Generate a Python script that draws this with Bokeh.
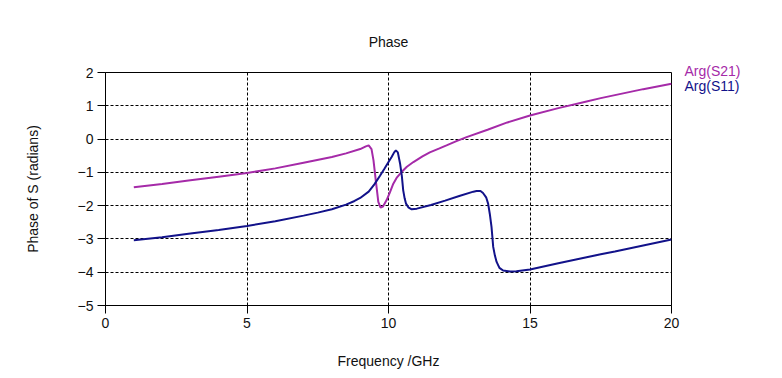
from bokeh.plotting import figure
from bokeh.models import Range1d, FixedTicker, Label
from bokeh.embed import file_html
from bokeh.resources import INLINE

# ---- data ----
freq_s21 = [1, 2, 3, 4, 5, 6, 7, 8, 8.5, 9, 9.2, 9.3, 9.4, 9.47, 9.55, 9.64, 9.72, 9.8,
            9.93, 10.05, 10.17, 10.3, 10.46, 10.65, 10.88, 11.2, 11.46, 11.8, 12.05,
            12.4, 12.76, 13.5, 14.2, 15, 16, 17, 17.5, 18, 19, 20]
arg_s21 = [-1.45, -1.35, -1.24, -1.13, -1.02, -0.88, -0.71, -0.54, -0.43, -0.30, -0.22,
           -0.19, -0.30, -0.64, -1.24, -1.89, -2.06, -2.03, -1.84, -1.60, -1.34, -1.15,
           -0.99, -0.83, -0.69, -0.52, -0.40, -0.28, -0.19, -0.06, 0.06, 0.28, 0.50,
           0.71, 0.93, 1.13, 1.23, 1.32, 1.50, 1.66]

freq_s11 = [1, 2, 3, 4, 5, 6, 7, 7.5, 8, 8.5, 8.8, 9, 9.3, 9.5, 9.7, 9.85, 10.0, 10.11,
            10.2, 10.26, 10.33, 10.41, 10.47, 10.52, 10.57, 10.62, 10.7, 10.82, 11.0,
            11.5, 12.0, 12.5, 13.0, 13.11, 13.25, 13.34, 13.45, 13.52, 13.58, 13.64,
            13.70, 13.76, 13.82, 13.92, 14.05, 14.3, 14.52, 15.0, 16.0, 17.0, 17.5, 18,
            19, 20]
arg_s11 = [-3.04, -2.95, -2.84, -2.73, -2.61, -2.47, -2.30, -2.21, -2.11, -1.97, -1.86,
           -1.77, -1.58, -1.36, -1.10, -0.90, -0.69, -0.54, -0.40, -0.34, -0.40, -0.74,
           -1.10, -1.54, -1.78, -1.94, -2.05, -2.11, -2.09, -1.98, -1.85, -1.71, -1.58,
           -1.56, -1.56, -1.62, -1.75, -1.94, -2.25, -2.64, -3.24, -3.50, -3.69, -3.87,
           -3.95, -3.98, -3.97, -3.92, -3.73, -3.55, -3.46, -3.38, -3.20, -3.02]

x_ticks = [0, 5, 10, 15, 20]
y_ticks = [-5, -4, -3, -2, -1, 0, 1, 2]
series_names = ["Arg(S21)", "Arg(S11)"]

FONT = "Liberation Sans"
C21 = "#A52AA8"
C11 = "#12128A"

p = figure(width=782, height=378, output_backend="svg", toolbar_location=None,
           x_range=Range1d(0, 20), y_range=Range1d(-5, 2),
           min_border_left=105, min_border_right=110, min_border_top=72,
           min_border_bottom=73, background_fill_color="white",
           border_fill_color="white")

p.title.text = "Phase"
p.title.align = "center"
p.title.text_font = FONT
p.title.text_font_size = "14px"
p.title.text_font_style = "normal"
p.title.text_color = "#111111"
p.title.standoff = 46

p.outline_line_color = "black"
p.outline_line_width = 1
p.outline_line_alpha = 1

for ax in (p.xaxis[0], p.yaxis[0]):
    ax.axis_line_color = "black"
    ax.major_tick_line_color = "black"
    ax.major_tick_out = 8
    ax.major_tick_in = 0
    ax.minor_tick_line_color = None
    ax.major_label_text_font = FONT
    ax.major_label_text_font_size = "14px"
    ax.major_label_text_color = "#111111"
    ax.axis_label_text_font = FONT
    ax.axis_label_text_font_size = "14px"
    ax.axis_label_text_font_style = "normal"
    ax.axis_label_text_color = "#111111"

p.xaxis.ticker = FixedTicker(ticks=x_ticks)
p.yaxis.ticker = FixedTicker(ticks=y_ticks)
p.xaxis.axis_label = "Frequency /GHz"
p.yaxis.axis_label = "Phase of S (radians)"
p.xaxis.major_label_standoff = 4
p.yaxis.major_label_standoff = 4
p.xaxis.axis_label_standoff = 22
p.yaxis.axis_label_standoff = 34

for g in (p.xgrid[0], p.ygrid[0]):
    g.grid_line_color = "black"
    g.grid_line_dash = "3 2"
    g.grid_line_width = 1
    g.grid_line_alpha = 1

p.line(freq_s21, arg_s21, line_color=C21, line_width=2)
p.line(freq_s11, arg_s11, line_color=C11, line_width=2)

# legend texts in the right-hand side panels, coloured like the lines
# (the second panel sits just right of the first, so its x is pulled back)
for name, col, xpos, ypos in zip(series_names, [C21, C11], [13, -43], [235, 220]):
    p.add_layout(Label(x=xpos, y=ypos, x_units="screen", y_units="screen", text=name,
                       text_color=col, text_font=FONT, text_font_size="14px",
                       text_baseline="middle", text_align="left"), "right")

open("out.html", "w").write(file_html(p, INLINE))
